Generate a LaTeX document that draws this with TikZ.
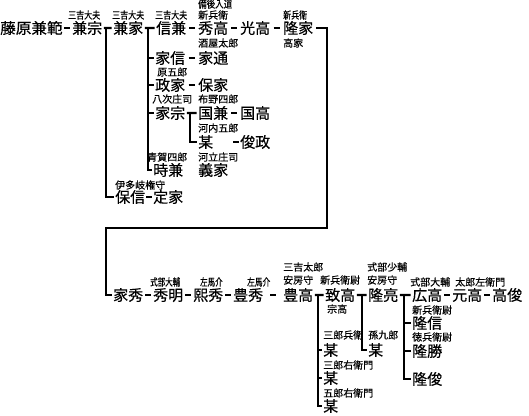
\documentclass[tikz,border=0pt]{standalone}
\usepackage{fontspec}
\usepackage{graphicx}
\usetikzlibrary{calc}
\setmainfont{Noto Sans CJK JP}
\newfontfamily\nmfont[FakeBold=0.5]{Noto Sans CJK JP}
\newfontfamily\lbfont[FakeBold=0.3]{Noto Sans CJK JP}
\newcommand{\sq}[2]{\scalebox{#1}[1]{#2}}
\begin{document}
\begin{tikzpicture}[x=1pt,y=-1pt,
 nm/.style={font=\nmfont\fontsize{15}{15}\selectfont, inner sep=0pt, anchor=base west, yshift=-5.7pt},
 lb/.style={font=\lbfont\fontsize{10}{10}\selectfont, inner sep=0pt, anchor=base west, yshift=-3.8pt},
 ln/.style={line width=2.4pt},
 dsh/.style={line width=2.8pt},
 tee/.style={line width=2.4pt, shorten <=1.5pt, shorten >=1.5pt},
 tk/.style={line width=2.4pt, shorten >=1.5pt}]
\fill[white] (0,0) rectangle (529,415);
\useasboundingbox (0,0) rectangle (529,415);
% vertical line positions
\coordinate (v1) at (106,0);
\coordinate (v2) at (148,0);
\coordinate (v3) at (190,0);
\coordinate (v4) at (318,0);
\coordinate (v5) at (362,0);
\coordinate (v6) at (404,0);
\coordinate (p1) at (327,228);
\coordinate (p2) at (106,228);
% names, upper part
\node[nm, xscale=1.04] (a1) at (0,28) {藤原兼範};
\node[nm] (a2) at (72,28) {兼宗};
\node[nm] (a3) at (113,28) {兼家};
\node[nm] (a4) at (156,28) {信兼};
\node[nm] (a5) at (198,28) {秀高};
\node[nm] (a6) at (240,28) {光高};
\node[nm] (a7) at (283,28) {隆家};
\node[nm] (b1) at (155,58) {家信};
\node[nm] (b2) at (198,58) {家通};
\node[nm] (c1) at (155,85) {政家};
\node[nm] (c2) at (198,85) {保家};
\node[nm] (d1) at (155,113) {家宗};
\node[nm] (d2) at (198,113) {国兼};
\node[nm] (d3) at (240,113) {国高};
\node[nm] (e1) at (198,142) {某};
\node[nm] (e2) at (240,142) {俊政};
\node[nm] (f1) at (153,170) {時兼};
\node[nm] (f2) at (198,170) {義家};
\node[nm] (g1) at (115,197) {保信};
\node[nm] (g2) at (153,197) {定家};
% names, lower part
\node[nm] (h1) at (113,295) {家秀};
\node[nm] (h2) at (153,295) {秀明};
\node[nm] (h3) at (193,295) {熙秀};
\node[nm] (h4) at (233,295) {豊秀};
\node[nm] (h5) at (283,295) {豊高};
\node[nm] (h6) at (325,295) {致高};
\node[nm] (h7) at (368,295) {隆亮};
\node[nm] (h8) at (412,295) {広高};
\node[nm] (h9) at (452,295) {元高};
\node[nm] (h10) at (492,295) {高俊};
\node[nm] (i1) at (412,323) {隆信};
\node[nm] (i2) at (412,351) {隆勝};
\node[nm] (i3) at (412,379) {隆俊};
\node[nm] (j1) at (323,350) {某};
\node[nm] (j2) at (323,378) {某};
\node[nm] (j3) at (323,406) {某};
\node[nm] (k1) at (368,350) {某};
% labels
\node[lb] (l1) at (68,15) {\sq{0.8}{三吉大夫}};
\node[lb] (l2) at (112,15) {\sq{0.8}{三吉大夫}};
\node[lb] (l3) at (155,15) {\sq{0.8}{三吉大夫}};
\node[lb] (l4) at (198,4) {\sq{0.85}{備後入道}};
\node[lb] (l5) at (198,15) {新兵衛};
\node[lb] (l6) at (283,15) {\sq{0.8}{新兵衛}};
\node[lb] (l7) at (283,43) {高家};
\node[lb] (l8) at (198,43) {酒屋太郎};
\node[lb] (l9) at (157,72) {原五郎};
\node[lb] (l10) at (152,99) {八次庄司};
\node[lb] (l11) at (198,99) {布野四郎};
\node[lb] (l12) at (198,128) {河内五郎};
\node[lb] (l13) at (147,157) {青賀四郎};
\node[lb] (l14) at (198,157) {河立庄司};
\node[lb] (l15) at (115,185) {伊多岐権守};
\node[lb] (l16) at (150,282) {\sq{0.75}{式部大輔}};
\node[lb] (l17) at (200,282) {\sq{0.75}{左馬介}};
\node[lb] (l18) at (247,282) {\sq{0.77}{左馬介}};
\node[lb] (l19) at (283,267) {三吉太郎};
\node[lb] (l20) at (283,280) {安房守};
\node[lb] (l21) at (320,280) {新兵衛尉};
\node[lb] (l22) at (367,267) {式部少輔};
\node[lb] (l23) at (367,280) {安房守};
\node[lb] (l24) at (410,282) {式部大輔};
\node[lb] (l25) at (455,282) {太郎左衛門};
\node[lb] (l26) at (327,309) {宗高};
\node[lb] (l27) at (412,310) {新兵衛尉};
\node[lb] (l28) at (412,337) {徳兵衛尉};
\node[lb] (l29) at (323,335) {三郎兵衛};
\node[lb] (l30) at (368,335) {孫九郎};
\node[lb] (l31) at (323,365) {三郎右衛門};
\node[lb] (l32) at (323,393) {五郎右衛門};
% dashes (centred in the gap between two names)
\foreach \s/\t in {a1/a2,a4/a5,a5/a6,a6/a7,b1/b2,c1/c2,d2/d3,g1/g2,h1/h2,h2/h3,h3/h4,h4/h5,h8/h9,h9/h10}
  \draw[dsh] ($(\s.east)!0.5!(\t.west)+(-3,0)$) -- +(6,0);
\draw[dsh] ($(e2.west)+(-7,0)$) -- ($(e2.west)+(-1.5,0)$);
% tees and brackets
\draw[tee] (a2.east) -- (a3.west);
\draw[tk] (v1 |- a2.east) |- (g1.west);
\draw[tee] (a3.east) -- (a4.west);
\draw[tk] (v2 |- a3.east) |- (f1.west);
\foreach \c in {b1,c1,d1} \draw[tk] (v2 |- \c.west) -- (\c.west);
\draw[tee] (d1.east) -- (d2.west);
\draw[tk] (v3 |- d1.east) |- (e1.west);
\draw[ln, shorten <=3pt, shorten >=1.5pt] (a7.east) -| (p1) -- (p2) |- (h1.west);
\draw[tee] (h5.east) -- (h6.west);
\draw[tk] (v4 |- h5.east) |- (j3.west);
\foreach \c in {j1,j2} \draw[tk] (v4 |- \c.west) -- (\c.west);
\draw[tee] (h6.east) -- (h7.west);
\draw[tk] (v5 |- h6.east) |- (k1.west);
\draw[tee] (h7.east) -- (h8.west);
\draw[tk] (v6 |- h7.east) |- (i3.west);
\foreach \c in {i1,i2} \draw[tk] (v6 |- \c.west) -- (\c.west);
\end{tikzpicture}
\end{document}
